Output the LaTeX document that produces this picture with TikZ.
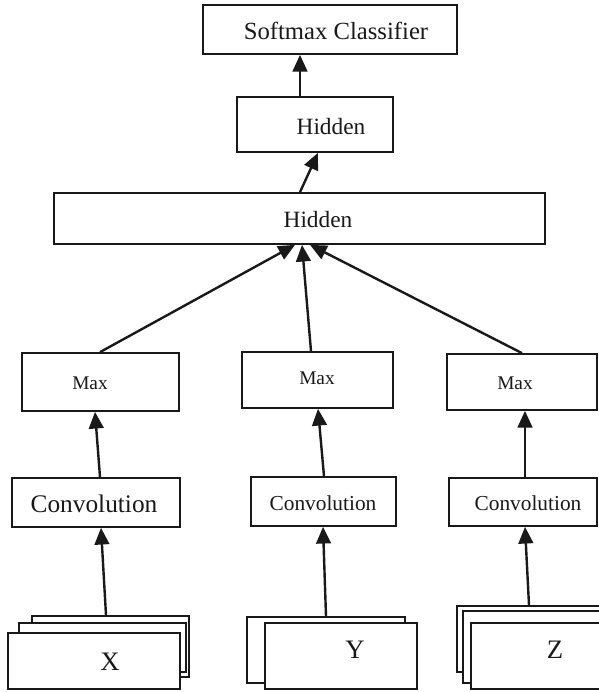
\documentclass[tikz,border=0pt]{standalone}
\usepackage{fontspec}
\setmainfont{Liberation Serif}
\usetikzlibrary{arrows.meta,fit}
\begin{document}
\begin{tikzpicture}[x=0.75pt,y=-0.75pt,
  box/.style={draw=black!90,line width=1.3pt,fill=white,inner sep=0pt,rectangle},
  lbl/.style={inner sep=0pt,text=black!90},
  arr/.style={line width=1.8pt,draw=black!90,-{Triangle[length=12.5pt,width=11pt]}},
  fa/.style={font=\fontsize{18.5}{20}\selectfont},
  fh/.style={font=\fontsize{17.5}{20}\selectfont},
  fm/.style={font=\fontsize{14.5}{16}\selectfont},
  fcl/.style={font=\fontsize{19}{21}\selectfont},
  fcs/.style={font=\fontsize{16}{18}\selectfont},
  fx/.style={font=\fontsize{20}{22}\selectfont}]
\useasboundingbox (0,0) rectangle (599,692);
\clip (0,0) rectangle (599,692);
% top
\node[box,fit={(203,5) (457,54)}] (sm) {};
\node[lbl,fa] (smt) at (336,31) {Softmax Classifier};
\node[box,fit={(237,97) (393,152)}] (hs) {};
\node[lbl,fh] (hst) at (331,127) {Hidden};
\node[box,fit={(54,193) (545,244)}] (hb) {};
\node[lbl,fh] (hbt) at (318,220) {Hidden};
% max
\node[box,fit={(22,353) (179,411)}] (m1) {};
\node[lbl,fm] (m1t) at (90,383) {Max};
\node[box,fit={(242,352) (393,408)}] (m2) {};
\node[lbl,fm] (m2t) at (317,378) {Max};
\node[box,fit={(447,354) (597,410)}] (m3) {};
\node[lbl,fm] (m3t) at (515,383) {Max};
% conv
\node[box,fit={(12,478) (180,527)}] (c1) {};
\node[lbl,fcl] (c1t) at (94,504) {Convolution};
\node[box,fit={(251,477) (396,526)}] (c2) {};
\node[lbl,fcs] (c2t) at (323,503) {Convolution};
\node[box,fit={(449,478) (597,526)}] (c3) {};
\node[lbl,fcs] (c3t) at (528,503) {Convolution};
% X stack
\node[box,fit={(32,616) (189,677)}] (x1) {};
\node[box,fit={(19,623) (186,672)}] (x2) {};
\node[box,fit={(8,633) (180,689)}] (x3) {};
\node[lbl,fx] (xt) at (110,662) {X};
% Y stack
\node[box,fit={(247,617) (405,683)}] (y1) {};
\node[box,fit={(265,623) (417,689)}] (y2) {};
\node[lbl,fx] (yt) at (355,650) {Y};
% Z stack
\node[box,fit={(457,606) (612,672)}] (z1) {};
\node[box,fit={(463,611) (612,683)}] (z2) {};
\node[box,fit={(471,623) (612,689)}] (z3) {};
\node[lbl,fx] (zt) at (555,650) {Z};
% arrows
\draw[arr] (hs.north -| 300,0) -- (sm.south -| 300,0);
\draw[arr] (hb.north -| 300,0) -- (hs.south -| 318,0);
\draw[arr] (m1.north -| 100,0) -- (hb.south -| 295,0);
\draw[arr] (m2.north -| 311,0) -- (hb.south -| 302,0);
\draw[arr] (m3.north -| 522,0) -- (hb.south -| 310,0);
\draw[arr] (c1.north -| 100,0) -- (m1.south -| 95,0);
\draw[arr] (c2.north -| 324,0) -- (m2.south -| 318,0);
\draw[arr] (c3.north -| 525,0) -- (m3.south -| 525,0);
\draw[arr] (x1.north -| 106,0) -- (c1.south -| 101,0);
\draw[arr] (y1.north -| 326,0) -- (c2.south -| 323,0);
\draw[arr] (z1.north -| 529,0) -- (c3.south -| 525,0);
\end{tikzpicture}
\end{document}
